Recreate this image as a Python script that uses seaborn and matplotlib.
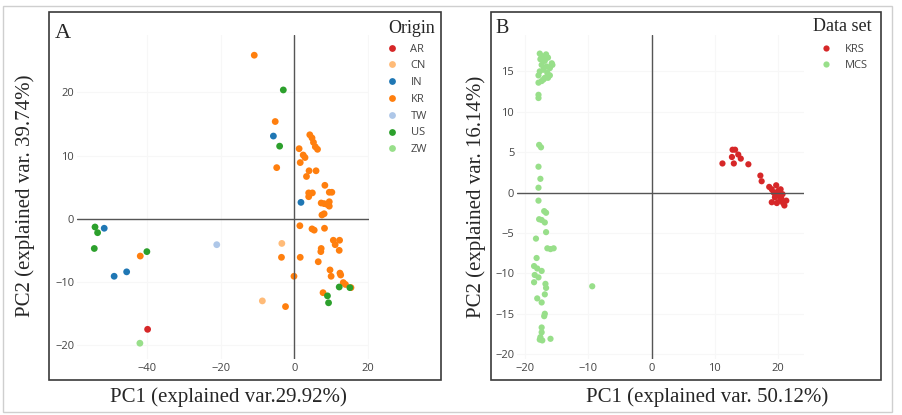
import numpy as np
import pandas as pd
import matplotlib.pyplot as plt
from matplotlib.patches import Rectangle
import seaborn as sns

# Panel A - PCA scores coloured by origin
origins = ['AR', 'CN', 'IN', 'KR', 'TW', 'US', 'ZW']
origin_colors = ['#d62728', '#ffbb78', '#1f77b4', '#ff7f0e', '#aec7e8', '#2ca02c', '#98df8a']

ar_pc1 = [-39.9]
ar_pc2 = [-17.5]
cn_pc1 = [-3.4, -8.7]
cn_pc2 = [-3.9, -13.0]
in_pc1 = [-5.7, 1.8, -51.7, -49.0, -45.6]
in_pc2 = [13.1, 2.6, -1.5, -9.1, -8.4]
kr_pc1 = [-10.9, -5.2, -4.8, -3.5, -2.4, -0.1, 1.3, 1.6, 2.4, 2.9, 3.3, 4.0, 5.9,
          4.2, 4.8, 5.2, 5.7, 6.3, 3.9, 4.9, 3.9, 8.3, 9.5, 10.2, 7.3, 8.1, 9.5,
          9.5, 8.8, 7.5, 8.1, 1.5, 4.8, 5.4, 8.2, 1.6, 6.5, 7.3, 7.2, 10.6, 11.1,
          12.3, 12.2, 9.7, 10.0, 12.4, 12.6, 13.3, 13.9, 15.4, 7.8, -41.9]
kr_pc2 = [25.9, 15.4, 8.1, -6.1, -13.9, -9.1, 11.1, 8.9, 10.1, 9.7, 6.7, 7.6, 7.6,
          13.3, 12.8, 12.1, 11.4, 11.0, 4.1, 4.1, 3.5, 5.3, 4.2, 4.2, 2.5, 2.4, 2.7,
          2.0, 2.3, 0.6, 0.8, -1.1, -1.6, -1.8, -1.5, -6.1, -6.8, -4.7, -5.2, -3.4, -4.1,
          -3.4, -5.0, -8.1, -9.1, -8.6, -8.9, -10.1, -10.4, -10.9, -11.7, -5.9]
tw_pc1 = [-21.1]
tw_pc2 = [-4.1]
us_pc1 = [-3.0, -4.0, -54.2, -53.5, -54.4, -40.1, 9.0, 9.3, 12.2, 15.1]
us_pc2 = [20.4, 11.5, -1.3, -2.2, -4.7, -5.2, -12.2, -13.3, -10.8, -10.9]
zw_pc1 = [-42.0]
zw_pc2 = [-19.7]

# Panel B - PCA scores coloured by data set
datasets = ['KRS', 'MCS']
dataset_colors = ['#d62728', '#98df8a']

krs_pc1 = [11.2, 12.8, 13.2, 12.7, 13.0, 13.7, 14.1, 15.3, 17.2, 17.4, 18.6, 19.0, 19.7, 19.3,
           20.0, 20.4, 19.5, 20.2, 20.5, 19.8, 20.8, 21.3, 20.3, 20.7, 19.6, 19.9, 21.0, 19.0]
krs_pc2 = [3.6, 5.3, 5.3, 4.4, 3.6, 4.7, 4.2, 3.5, 2.1, 1.4, 0.7, 0.4, 0.9, 0.0,
           0.2, 0.4, -0.6, -0.4, -0.7, -1.3, -1.3, -1.0, -1.0, -0.2, -0.4, -0.2, -1.6, -1.2]
mcs_pc1 = [-17.7, -17.4, -17.1, -16.4, -17.6, -16.9, -15.8, -17.4, -16.6, -16.1, -17.1, -17.7,
           -16.5, -16.1, -17.9, -16.9, -16.4, -17.4, -17.9, -17.1, -15.7, -16.7, -17.9, -17.9,
           -17.8, -17.5, -17.9, -17.6, -17.9, -17.9, -17.0, -16.7, -17.8, -17.4, -16.9, -16.7,
           -18.3, -16.5, -16.0, -15.5, -18.2, -18.6, -18.1, -17.4, -18.5, -18.6, -17.9, -16.8,
           -16.7, -16.9, -18.1, -17.4, -16.9, -17.0, -17.4, -17.4, -17.6, -17.3, -16.0, -17.7, -9.4]
mcs_pc2 = [17.2, 16.9, 16.7, 16.7, 16.5, 16.3, 16.0, 15.8, 15.6, 15.4, 15.2, 15.0,
           14.8, 14.5, 14.5, 14.2, 14.2, 13.8, 13.6, 14.0, 15.8, 17.1, 12.1, 11.7,
           5.9, 5.6, 3.2, 1.7, 0.6, -1.0, -2.3, -2.5, -3.3, -3.4, -3.7, -4.9,
           -5.7, -6.9, -7.0, -6.9, -8.1, -9.1, -9.4, -9.7, -10.2, -11.1, -10.5, -11.3,
           -11.8, -12.6, -13.1, -13.6, -15.0, -15.3, -16.7, -17.3, -17.9, -18.3, -18.1, -18.2, -11.6]

# Build tidy tables
groups_a = {'AR': (ar_pc1, ar_pc2), 'CN': (cn_pc1, cn_pc2), 'IN': (in_pc1, in_pc2),
            'KR': (kr_pc1, kr_pc2), 'TW': (tw_pc1, tw_pc2), 'US': (us_pc1, us_pc2),
            'ZW': (zw_pc1, zw_pc2)}
df_a = pd.concat([pd.DataFrame({'PC1': v[0], 'PC2': v[1], 'Origin': k}) for k, v in groups_a.items()],
                 ignore_index=True)
groups_b = {'KRS': (krs_pc1, krs_pc2), 'MCS': (mcs_pc1, mcs_pc2)}
df_b = pd.concat([pd.DataFrame({'PC1': v[0], 'PC2': v[1], 'Data set': k}) for k, v in groups_b.items()],
                 ignore_index=True)

sns.set_style('white')
plt.rcParams['font.family'] = ['Liberation Serif', 'DejaVu Serif']

W, H = 902, 415
fig = plt.figure(figsize=(W / 100, H / 100), dpi=100)

def fx(px):
    return px / W

def fy(py):
    return 1 - py / H

# Outer light frame and panel frames
fig.patches.append(Rectangle((fx(3), fy(412)), fx(889), 406 / H, transform=fig.transFigure,
                             fill=False, edgecolor='#cfcfcf', linewidth=1))
for left, right in [(49, 441), (491, 881)]:
    fig.patches.append(Rectangle((fx(left), fy(380)), fx(right - left), 368 / H,
                                 transform=fig.transFigure, fill=False,
                                 edgecolor='#3a3a3a', linewidth=1.2))

ax_a = fig.add_axes([fx(77), fy(359), fx(292), 324 / H])
ax_b = fig.add_axes([fx(517), fy(359), fx(287), 324 / H])

sns.scatterplot(data=df_a, x='PC1', y='PC2', hue='Origin', hue_order=origins,
                palette=origin_colors, s=24, linewidth=0, ax=ax_a)
sns.scatterplot(data=df_b, x='PC1', y='PC2', hue='Data set', hue_order=datasets,
                palette=dataset_colors, s=20, linewidth=0, ax=ax_b)

ax_a.set_xlim(-59.1, 20.3)
ax_a.set_ylim(-22.2, 29.1)
ax_a.set_xticks([-40, -20, 0, 20])
ax_a.set_yticks([-20, -10, 0, 10, 20])
ax_b.set_xlim(-21.3, 24.1)
ax_b.set_ylim(-20.6, 19.5)
ax_b.set_xticks([-20, -10, 0, 10, 20])
ax_b.set_yticks([-20, -15, -10, -5, 0, 5, 10, 15])

for ax in [ax_a, ax_b]:
    ax.set_zorder(1)
    for sp in ax.spines.values():
        sp.set_visible(False)
    ax.grid(True, color='#f7f7f7', linewidth=0.8)
    ax.set_axisbelow(True)
    ax.axhline(0, color='#555555', linewidth=1, zorder=1)
    ax.axvline(0, color='#555555', linewidth=1, zorder=1)
    ax.tick_params(axis='both', length=0, labelsize=8, labelcolor='#444444')
    ax.tick_params(axis='x', pad=3)
    ax.tick_params(axis='y', pad=2)
    for lab in ax.get_xticklabels() + ax.get_yticklabels():
        lab.set_fontfamily('Open Sans')

# Axis labels
ax_a.set_xlabel('PC1 (explained var.29.92%)', fontsize=15, va='center')
ax_a.set_ylabel('PC2 (explained var. 39.74%)', fontsize=15, va='center')
ax_a.xaxis.set_label_coords((228 - 77) / 292, (359 - 397) / 324)
ax_a.yaxis.set_label_coords((25 - 77) / 292, (359 - 196) / 324)
ax_b.set_xlabel('PC1 (explained var. 50.12%)', fontsize=15, va='center')
ax_b.set_ylabel('PC2 (explained var. 16.14%)', fontsize=15, va='center')
ax_b.xaxis.set_label_coords((707 - 517) / 287, (359 - 397) / 324)
ax_b.yaxis.set_label_coords((476 - 517) / 287, (359 - 197) / 324)

# Panel letters
fig.text(fx(55), fy(38), 'A', fontsize=16, va='baseline', ha='left')
fig.text(fx(495), fy(33), 'B', fontsize=14.5, va='baseline', ha='left')

# Legends
def restyle_legend(ax, left_px, title, title_x, title_y):
    old = ax.get_legend()
    handles = old.legend_handles
    labels = [t.get_text() for t in old.get_texts()]
    old.remove()
    leg = ax.legend(handles, labels, loc='upper left',
                    bbox_to_anchor=(fx(left_px), fy(43.5)), bbox_transform=fig.transFigure,
                    frameon=False, fontsize=8, borderpad=0, borderaxespad=0,
                    handlelength=1.0, handletextpad=1.16, labelspacing=0.52)
    for t in leg.get_texts():
        t.set_color('#444444')
        t.set_fontfamily('Open Sans')
    fig.text(fx(title_x), fy(title_y), title, fontsize=13, va='baseline', ha='left')

restyle_legend(ax_a, 386.5, 'Origin', 388, 33)
restyle_legend(ax_b, 820.8, 'Data set', 813, 31)

fig.savefig('out.png', dpi=100)
